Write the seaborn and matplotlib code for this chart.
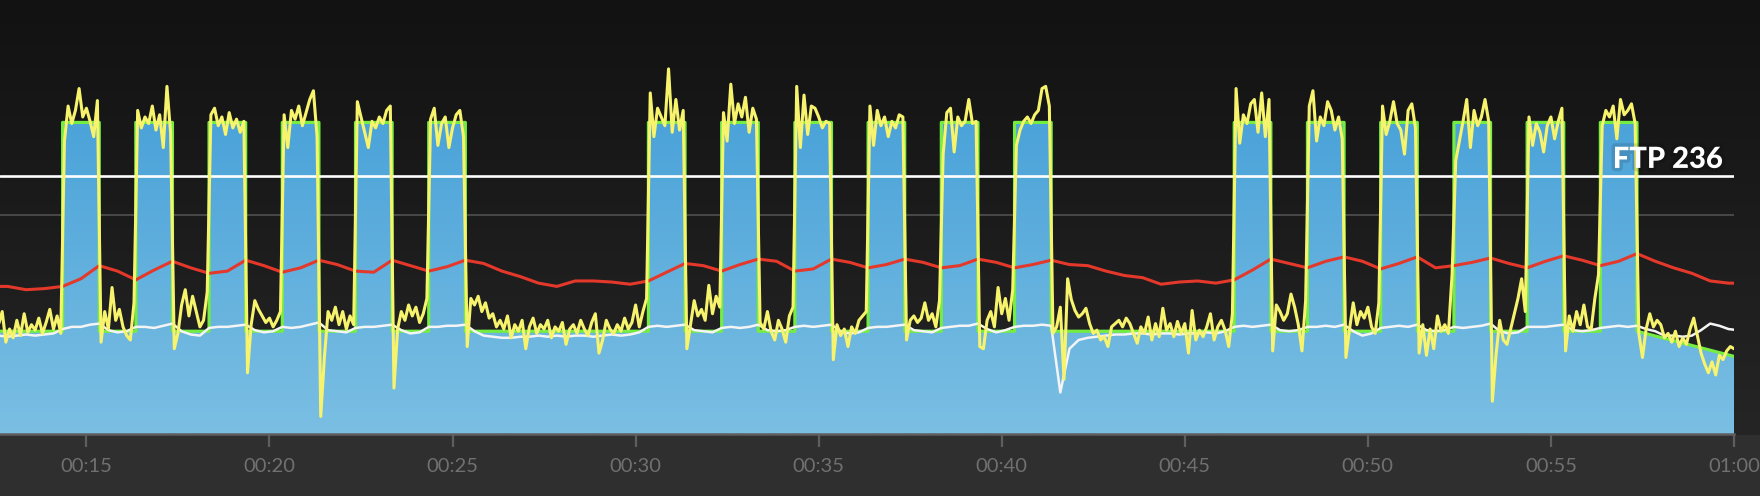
import numpy as np
import pandas as pd
import matplotlib
matplotlib.use("Agg")
import matplotlib.pyplot as plt
import matplotlib.patheffects as pe
from matplotlib.patches import Polygon
import seaborn as sns


# ---------------------------------------------------------------------
# 1. Values (minutes into the ride)
# ---------------------------------------------------------------------

ftp = 236
grid_watts = 200

# target workout: 3 sets of 6 x 1 min on / 1 min off
interval_starts = [14.35, 16.35, 18.35, 20.35, 22.35, 24.35,
                   30.35, 32.35, 34.35, 36.35, 38.35, 40.35,
                   46.35, 48.35, 50.35, 52.35, 54.35, 56.35]
interval_len = 1.0
interval_watts = 285
recovery_watts = 94
cooldown_end = 60.0
cooldown_end_watts = 71
target_t0 = 12.5

# actual power, one reading every 0.1 min from 12.6
power_t0, power_dt = 12.6, 0.1
power_warmup = [100, 112, 84, 96, 88, 104, 90, 110, 93, 100, 95, 106, 92, 102, 114, 96, 108, 92]
power_set1 = [
    268, 300, 284, 296, 316, 290, 298, 286, 272, 305,
    84, 112, 96, 134, 104, 114, 98, 90, 86, 120,
    296, 280, 290, 284, 300, 278, 292, 262, 318, 275,
    78, 92, 118, 132, 108, 126, 112, 98, 104, 130,
    292, 298, 282, 290, 274, 294, 280, 288, 276, 286,
    56, 100, 122, 114, 108, 102, 106, 98, 104, 112,
    292, 262, 296, 288, 300, 282, 294, 306, 314, 272,
    16, 70, 112, 104, 116, 100, 112, 96, 108, 100,
    304, 290, 276, 262, 286, 280, 290, 284, 296, 300,
    42, 96, 112, 104, 118, 108, 116, 102, 110, 124,
    288, 298, 264, 284, 290, 262, 280, 292, 296, 272,
]
power_rest1 = [
    80, 124, 118, 126, 112, 120, 106, 110, 98, 104,
    96, 108, 88, 100, 94, 104, 78, 98, 106, 92,
    100, 96, 104, 88, 98, 94, 102, 82, 96, 100,
    92, 104, 96, 90, 102, 110, 74, 86, 104, 96,
    92, 100, 94, 106, 96, 102, 118, 98, 112, 124,
]
power_set2 = [
    312, 272, 298, 290, 282, 334, 276, 306, 278, 296,
    78, 100, 122, 108, 114, 104, 136, 110, 126, 116,
    294, 268, 320, 284, 302, 290, 308, 276, 298, 288,
    102, 96, 112, 94, 86, 104, 96, 84, 108, 116,
    318, 262, 310, 274, 300, 298, 290, 280, 286, 284,
    68, 100, 90, 96, 80, 98, 92, 104, 108, 112,
    300, 264, 296, 282, 290, 272, 286, 280, 292, 290,
    86, 104, 108, 102, 106, 120, 104, 110, 98, 122,
    256, 294, 298, 258, 290, 282, 286, 306, 284, 286,
    80, 78, 104, 112, 98, 134, 110, 124, 104, 132,
    264, 278, 286, 290, 284, 292, 296, 316, 318, 300,
]
power_rest2 = [
    92, 98, 116, 50, 142, 123, 113, 107, 110, 115,
    101, 92, 95, 86, 89, 80, 98, 101, 104, 98,
    106, 101, 92, 83, 98, 92, 107, 86, 101, 89,
    115, 95, 101, 89, 103, 92, 101, 74, 113, 86,
    95, 89, 98, 110, 86, 98, 104, 95, 80, 110,
]
power_set3 = [
    316, 266, 292, 284, 302, 306, 276, 312, 272, 306,
    76, 118, 112, 104, 110, 128, 116, 100, 76, 122,
    300, 314, 268, 290, 282, 304, 296, 278, 290, 270,
    70, 96, 120, 100, 112, 106, 116, 98, 92, 120,
    300, 274, 286, 304, 284, 278, 256, 296, 302, 280,
    74, 100, 72, 96, 78, 108, 94, 100, 92, 146,
    250, 268, 286, 306, 262, 296, 282, 290, 306, 286,
    30, 72, 104, 86, 82, 96, 110, 124, 142, 112,
    290, 264, 284, 276, 258, 282, 290, 270, 286, 298,
    76, 108, 94, 112, 100, 118, 98, 96, 124, 146,
    282, 296, 290, 300, 270, 306, 292, 296, 302, 284,
]
power_cooldown = [92, 70, 96, 110, 98, 104, 100, 88, 92, 84, 94, 80, 88, 82,
                  96, 106, 90, 74, 64, 56, 66, 54, 72, 68, 76, 80, 78]

# heart rate, one reading every 0.5 min from 12.35
hr_t0, hr_dt = 12.35, 0.5
hr_bpm = [
    135, 135, 132, 133,
    135, 142, 154, 149,
    141, 150, 158, 152,
    147, 149, 159, 154,
    148, 152, 159, 155,
    149, 148, 159, 154,
    149, 153, 159, 156,
    149, 144, 138, 135,
    140, 140, 139, 137,
    140, 148, 156, 154,
    149, 155, 160, 158,
    149, 151, 160, 157,
    152, 155, 160, 157,
    152, 154, 160, 157,
    152, 155, 159, 155,
    154, 149, 145, 143,
    137, 139, 140, 138,
    141, 150, 160, 156,
    152, 158, 162, 158,
    151, 156, 162, 152,
    154, 157, 161, 156,
    152, 158, 163, 159,
    154, 158, 165, 158,
    152, 147, 140, 138,
    138,
]

# cadence, one reading every 0.25 min from 12.6
cad_t0, cad_dt = 12.6, 0.25
cadence_rpm = [
    90, 89, 90, 91, 90, 91, 92,
    96, 98, 98, 100, 101, 95, 93, 94,
    98, 98, 97, 99, 101, 94, 91, 90,
    97, 98, 98, 99, 100, 95, 93, 94,
    98, 97, 98, 100, 102, 95, 94, 93,
    97, 98, 98, 99, 100, 95, 92, 93,
    98, 98, 99, 99, 100, 94, 90, 89,
    88, 88, 89, 89, 90, 89, 90, 89, 90, 90, 89, 90, 91, 90, 91, 93,
    98, 99, 98, 99, 100, 95, 94, 93,
    97, 98, 97, 98, 100, 95, 94, 95,
    98, 99, 98, 99, 100, 94, 92, 93,
    97, 98, 98, 99, 100, 95, 94, 93,
    97, 98, 99, 99, 101, 96, 93, 95,
    98, 99, 99, 100, 99, 38, 78, 86,
    88, 89, 90, 91, 91, 92, 92, 91, 92, 92, 91, 92, 92, 93, 92, 94,
    98, 99, 98, 99, 100, 95, 94, 95,
    98, 98, 99, 98, 100, 94, 90, 92,
    97, 98, 99, 98, 100, 95, 94, 95,
    98, 97, 98, 99, 101, 94, 92, 93,
    98, 98, 98, 99, 100, 95, 94, 95,
    97, 98, 99, 98, 99, 96, 94, 90,
    90, 89, 90, 95, 101, 99, 96, 95,
]

tick_minutes = [15, 20, 25, 30, 35, 40, 45, 50, 55, 60]
x_min, x_max = 12.64, 60.0
y_max = 397

# ---------------------------------------------------------------------
# 2. Frames for plotting
# ---------------------------------------------------------------------

power = np.concatenate([power_warmup, power_set1, power_rest1, power_set2,
                        power_rest2, power_set3, power_cooldown])
df_power = pd.DataFrame({"minute": power_t0 + power_dt * np.arange(len(power)),
                         "watts": power})
df_hr = pd.DataFrame({"minute": hr_t0 + hr_dt * np.arange(len(hr_bpm)),
                      "bpm": hr_bpm})
df_cad = pd.DataFrame({"minute": cad_t0 + cad_dt * np.arange(len(cadence_rpm)),
                       "rpm": cadence_rpm})

# target outline as a step line
tx, ty = [target_t0], [recovery_watts]
for s in interval_starts:
    tx += [s, s, s + interval_len, s + interval_len]
    ty += [recovery_watts, interval_watts, interval_watts, recovery_watts]
tx.append(cooldown_end)
ty.append(cooldown_end_watts)

# ---------------------------------------------------------------------
# 3. Figure
# ---------------------------------------------------------------------

sns.set_theme(style="ticks")
plt.rcParams["font.family"] = ["Lato", "DejaVu Sans"]

W, H = 1760, 496
fig = plt.figure(figsize=(W / 100, H / 100), dpi=100)
fig.patch.set_facecolor("#2e2e2e")

# dark background gradient
bg = fig.add_axes([0, 0, 1, 1], zorder=0)
top = np.array([0x12, 0x12, 0x12]) / 255
mid = np.array([0x25, 0x25, 0x25]) / 255
low = np.array([0x2f, 0x2f, 0x2f]) / 255
f = np.clip(np.arange(H) / 434, 0, 1)
col = top + f[:, None] * (mid - top)
col[435:] = low
bg.imshow(col[:, None, :], extent=[0, 1, 0, 1], aspect="auto")
bg.axis("off")

ax = fig.add_axes([0, 62 / H, 1734 / W, 434 / H], zorder=1)
ax.patch.set_alpha(0)

ax.axhline(grid_watts, color="#474747", lw=1.5, zorder=0.5)

# blue gradient fill under the target
g = np.linspace(0, 1, 256)[:, None, None]
c_top = np.array([56, 152, 213]) / 255
c_bot = np.array([123, 191, 227]) / 255
im = ax.imshow(c_top + g * (c_bot - c_top), extent=[x_min, x_max, 0, y_max],
               aspect="auto", origin="upper", zorder=1, interpolation="bilinear")
clip = Polygon([(tx[0], 0)] + list(zip(tx, ty)) + [(tx[-1], 0)], closed=True,
               transform=ax.transData, facecolor="none", edgecolor="none")
ax.add_patch(clip)
im.set_clip_path(clip)

ax.plot(tx, ty, color="#74ec42", lw=2.3, zorder=2)
ax.axhline(ftp, color="white", lw=1.9, zorder=2.6)

sns.lineplot(data=df_cad, x="minute", y="rpm", color="#f4f4f4", linewidth=1.8,
             estimator=None, ax=ax, zorder=3)
sns.lineplot(data=df_hr, x="minute", y="bpm", color="#e4382b", linewidth=2.2,
             estimator=None, ax=ax, zorder=4)
sns.lineplot(data=df_power, x="minute", y="watts", color="#f7f36c", linewidth=2.2,
             estimator=None, ax=ax, zorder=5)

ax.text(59.69, 243.4, f"FTP {ftp}", ha="right", va="baseline", color="white",
        fontsize=21, fontweight="black", zorder=6,
        path_effects=[pe.Stroke(linewidth=5, foreground="black", alpha=0.12),
                      pe.Normal()])

ax.set_xlim(x_min, x_max)
ax.set_ylim(0, y_max)
ax.set_xlabel("")
ax.set_ylabel("")
ax.set_yticks([])
ax.set_xticks(tick_minutes)
ax.set_xticklabels([f"{m // 60:02d}:{m % 60:02d}" for m in tick_minutes])
for side in ["top", "right", "left"]:
    ax.spines[side].set_visible(False)
ax.spines["bottom"].set_color("#5e5e5e")
ax.spines["bottom"].set_linewidth(1.8)
ax.tick_params(axis="x", length=9, width=1.6, color="#5e5e5e", pad=8,
               labelsize=14.5, labelcolor="#707070")

fig.savefig("out.png", dpi=100)
plt.close(fig)
